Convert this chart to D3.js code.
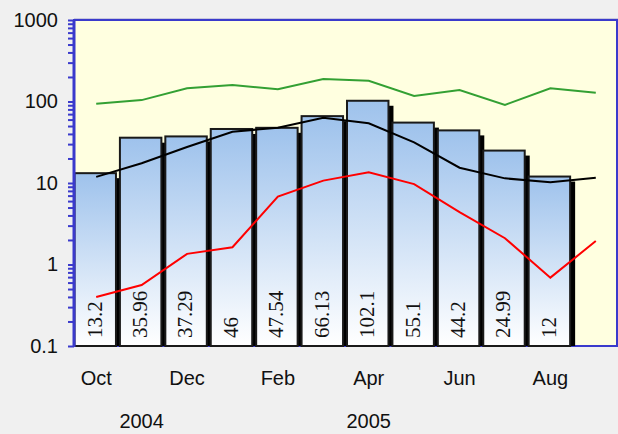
<!DOCTYPE html>
<html><head><meta charset="utf-8">
<script src="https://cdn.jsdelivr.net/npm/d3@7"></script>
<style>
html,body{margin:0;padding:0;background:#f0f0f0;}
svg{display:block;}
</style></head>
<body>
<svg id="chart" width="618" height="434"></svg>
<script>
const months = ["Oct","Nov","Dec","Jan","Feb","Mar","Apr","May","Jun","Jul","Aug","Sep"];
const monthTickLabels = ["Oct","Dec","Feb","Apr","Jun","Aug"];
const yearLabels = [{m:"Nov", text:"2004"}, {m:"Apr", text:"2005"}];
const barValues = [13.2,35.96,37.29,46,47.54,66.13,102.1,55.1,44.2,24.99,12];
const greenValues = [94,104,145,159,141,189,180,117,138,91,145,128];
const blackValues = [11.9,17.5,27.7,42.6,47.7,63.3,54,31.6,15.4,11.4,10.2,11.6];
const redValues = [0.40,0.56,1.35,1.63,6.8,10.7,13.5,9.7,4.4,2.1,0.69,1.94];
const yMajor = [0.1,1,10,100,1000];

(function(){
const svg = d3.select("#chart");
const pTop = 20, pBottom = 346, pLeft = 74, pRight = 617;

const x = d3.scaleBand().domain(months).range([73.5, 618.5]).padding(0);
const y = d3.scaleLog().domain([0.1, 1000]).range([pBottom, pTop]);
const bw = x.bandwidth();

const defs = svg.append("defs");
const grad = defs.append("linearGradient").attr("id","barGrad").attr("x1",0).attr("y1",0).attr("x2",0).attr("y2",1);
grad.append("stop").attr("offset","0%").attr("stop-color","#9ec2ec");
grad.append("stop").attr("offset","100%").attr("stop-color","#ffffff");
defs.append("clipPath").attr("id","plotClip").append("rect")
  .attr("x", pLeft).attr("y", pTop).attr("width", pRight-pLeft).attr("height", pBottom-pTop);

svg.append("line").attr("x1",pLeft).attr("x2",618).attr("y1",18.5).attr("y2",18.5)
  .attr("stroke","#c8c8dc").attr("stroke-width",1);

svg.append("rect").attr("x", pLeft).attr("y", pTop).attr("width", pRight-pLeft).attr("height", pBottom-pTop)
  .attr("fill","#ffffe0").attr("stroke","#3a3acc").attr("stroke-width",2);

const barW = bw*0.935;
const g = svg.append("g");
barValues.forEach((v,i) => {
  const x0 = x(months[i]);
  g.append("rect").attr("x", x0+5).attr("y", y(v)+5).attr("width", barW).attr("height", pBottom - y(v) - 5)
    .attr("fill","#000");
  g.append("rect").attr("x", x0+1).attr("y", y(v)).attr("width", barW-1).attr("height", pBottom - y(v))
    .attr("fill","url(#barGrad)").attr("stroke","#1a1a1a").attr("stroke-width",2);
});

barValues.forEach((v,i) => {
  const cx = x(months[i]) + bw/2 - 1.5;
  svg.append("text")
    .attr("transform", `translate(${cx},338) rotate(-90)`)
    .attr("dy","0.33em")
    .attr("font-family","'Liberation Serif','Times New Roman',serif")
    .attr("font-size", 21)
    .attr("fill","#111")
    .text(String(v));
});

const line = d3.line().x((d,i) => x(months[i]) + bw/2).y(d => y(d));
const lg = svg.append("g").attr("clip-path","url(#plotClip)");
lg.append("path").datum(greenValues).attr("d", line).attr("fill","none").attr("stroke","#33a033").attr("stroke-width",2);
lg.append("path").datum(blackValues).attr("d", line).attr("fill","none").attr("stroke","#000").attr("stroke-width",2);
lg.append("path").datum(redValues).attr("d", line).attr("fill","none").attr("stroke","#ff0000").attr("stroke-width",2);

const yTicks = [];
for (let e = -1; e < 3; e++) for (let k = 1; k <= 9; k++) yTicks.push(+(k*Math.pow(10,e)).toPrecision(3));
yTicks.push(1000);
const yAxis = d3.axisLeft(y).tickValues(yTicks).tickSize(6).tickPadding(10)
  .tickFormat(d => yMajor.includes(d) ? d3.format("~g")(d) : "");
const ya = svg.append("g").attr("transform", `translate(${pLeft},0)`).call(yAxis);
ya.select(".domain").attr("stroke","#3a3acc").attr("stroke-width",3).attr("d", `M0,${pTop}V${pBottom+1}`);
ya.selectAll(".tick line").attr("stroke","#3a3acc").attr("stroke-width",2);
ya.selectAll(".tick text").attr("font-family","'Liberation Sans',Arial,sans-serif").attr("font-size",20).attr("fill","#111").attr("x",-16);

svg.selectAll(".mlab").data(monthTickLabels).enter().append("text")
  .attr("x", d => x(d) + bw/2).attr("y", 385).attr("text-anchor","middle")
  .attr("font-family","'Liberation Sans',Arial,sans-serif").attr("font-size",20).attr("fill","#111")
  .text(d => d);
svg.selectAll(".ylab").data(yearLabels).enter().append("text")
  .attr("x", d => x(d.m) + bw/2).attr("y", 428).attr("text-anchor","middle")
  .attr("font-family","'Liberation Sans',Arial,sans-serif").attr("font-size",20).attr("fill","#111")
  .text(d => d.text);
})();
</script>
</body></html>
